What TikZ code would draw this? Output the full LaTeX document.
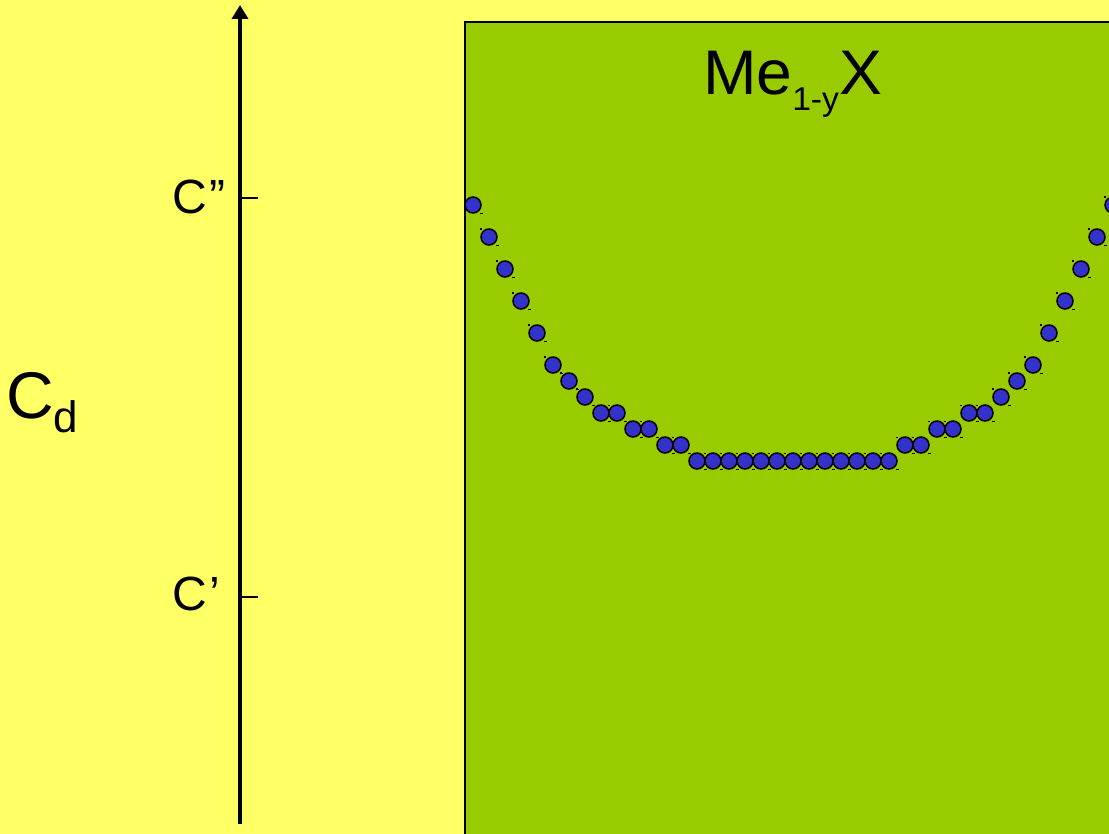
\documentclass[tikz,border=0pt]{standalone}
\usepackage{fontspec}
\setmainfont{Liberation Sans}
\usetikzlibrary{arrows.meta}
\definecolor{bgyellow}{HTML}{FFFF66}
\definecolor{boxgreen}{HTML}{99CC00}
\definecolor{dotblue}{HTML}{3333CC}
\tikzset{
  dotmark/.style={fill=dotblue,draw=black,line width=1.5pt},
  handle/.style={fill=black,draw=none},
  lbl/.style={anchor=base west,inner sep=0pt,outer sep=0pt},
  axisline/.style={line width=4pt,-{Triangle[length=14pt,width=16pt]}},
  tick/.style={line width=1.2pt}
}
\begin{document}
\begin{tikzpicture}[x=1pt,y=-1pt]
\useasboundingbox (0,0) rectangle (1109,834);
\fill[bgyellow] (0,0) rectangle (1109,834);
% green box
\begin{scope}
\clip (0,0) rectangle (1109,834);
\filldraw[fill=boxgreen,draw=black,line width=1.6pt] (465,22) rectangle (1130,860);
% dots
\foreach \cx/\cy in {473/205,489/237,505/269,521/301,537/333,553/365,569/381,585/397,601/413,617/413,633/429,649/429,665/445,681/445,
697/461,713/461,729/461,745/461,761/461,777/461,793/461,809/461,825/461,841/461,857/461,873/461,889/461,
905/445,921/445,937/429,953/429,969/413,985/413,1001/397,1017/381,1033/365,1049/333,1065/301,1081/269,1097/237,1113/205}{
  \fill[handle] (\cx-9.2,\cy-8.5) rectangle ++(2.4,1.4);
  \fill[handle] (\cx+7.2,\cy+7.6) rectangle ++(2.4,1.4);
  \filldraw[dotmark] (\cx,\cy) circle (8);
}
\end{scope}
% axis
\coordinate (axbot) at (240,824);
\coordinate (axtop) at (240,5);
\draw[axisline] (axbot) -- (axtop);
\coordinate (t2a) at (240,198);
\coordinate (t2b) at (258,198);
\coordinate (t1a) at (240,597);
\coordinate (t1b) at (258,597);
\draw[tick] (t2a) -- (t2b);
\draw[tick] (t1a) -- (t1b);
% labels
\node[lbl,font=\fontsize{48}{52}\selectfont] (cpp) at (172,214) {C\kern3pt”};
\node[lbl,font=\fontsize{48}{52}\selectfont] (cp) at (172,610) {C\kern3pt’};
\node[lbl,font=\fontsize{66}{70}\selectfont] (cd) at (6,418) {C\raisebox{-14pt}{\fontsize{44}{46}\selectfont d}};
\node[lbl,font=\fontsize{63}{66}\selectfont,xscale=1.02] (title) at (703,95) {Me\raisebox{-16pt}{\fontsize{33}{35}\selectfont 1-y}X};
\end{tikzpicture}
\end{document}
